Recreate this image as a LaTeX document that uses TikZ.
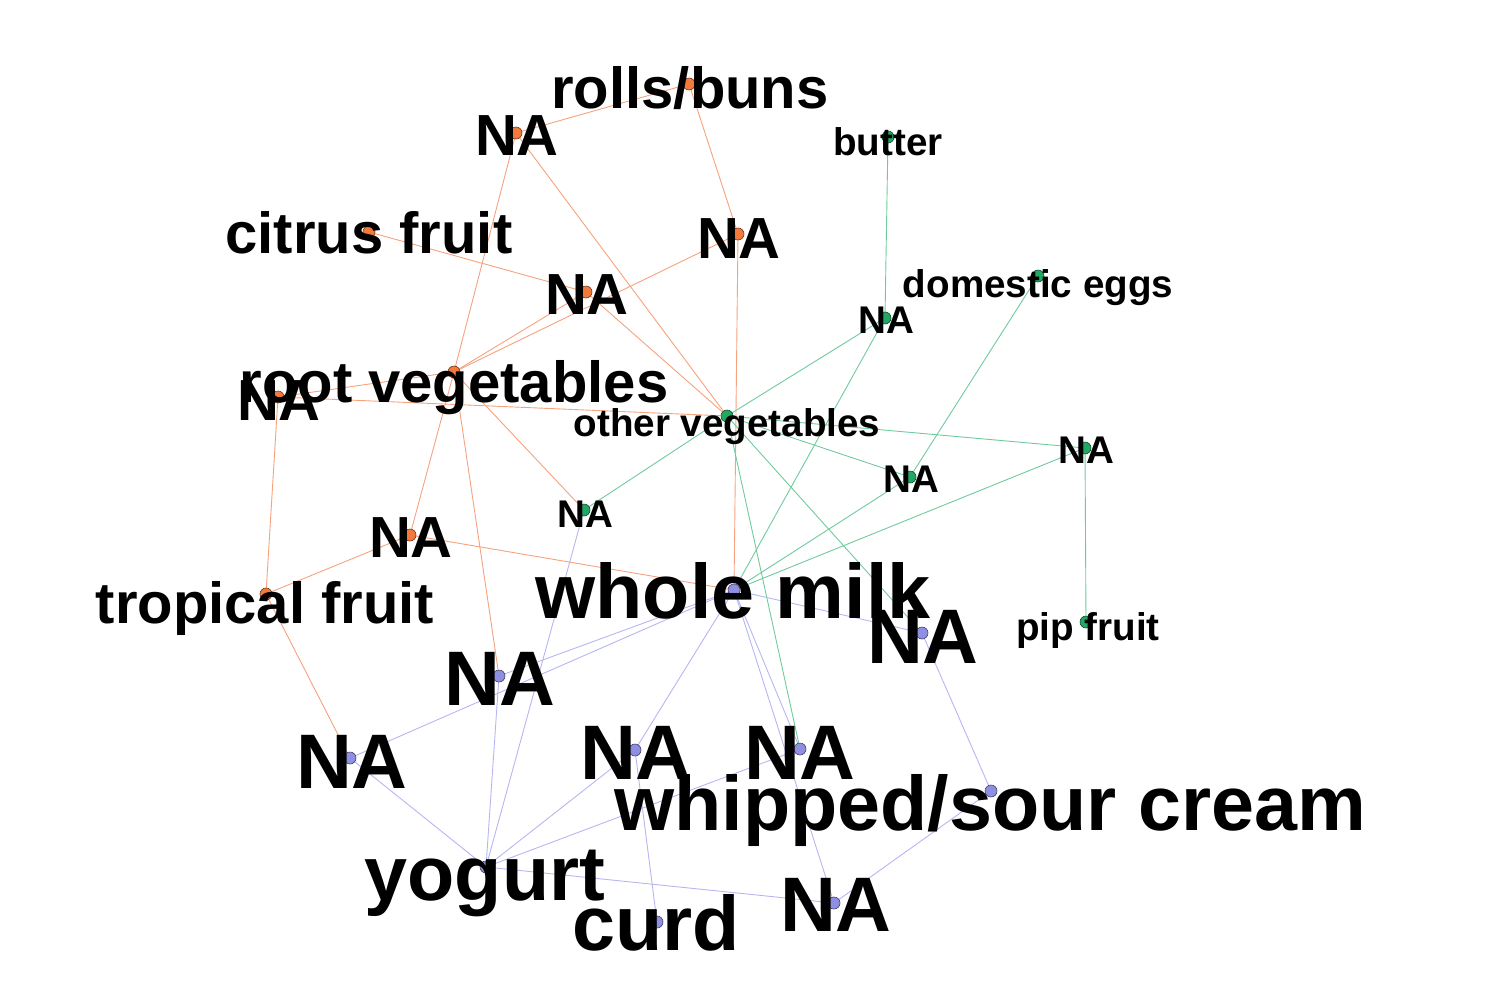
\documentclass[tikz,border=0pt]{standalone}
\usepackage{fontspec}
\setmainfont{Liberation Sans}
\usetikzlibrary{positioning,backgrounds}
\definecolor{org}{HTML}{F47A3C}
\definecolor{grn}{HTML}{22A862}
\definecolor{prp}{HTML}{8F8FE2}
\definecolor{oline}{HTML}{F7A27E}
\definecolor{gline}{HTML}{6FCB9C}
\definecolor{pline}{HTML}{B6B6F2}

\begin{document}
\begin{tikzpicture}[x=1pt,y=-1pt,
  vdot/.style={circle,inner sep=0pt,minimum size=12pt,line width=0.6pt},
  odot/.style={vdot,fill=org,draw=org!45!black},
  gdot/.style={vdot,fill=grn,draw=grn!45!black},
  pdot/.style={vdot,fill=prp,draw=prp!45!black},
  oedge/.style={oline,line width=0.9pt},
  gedge/.style={gline,line width=0.9pt},
  pedge/.style={pline,line width=0.9pt},
  lab/.style={anchor=base,inner sep=0pt,text=black},
  olab/.style={lab,font=\fontsize{58}{58}\selectfont\bfseries},
  glab/.style={lab,font=\fontsize{38.6}{39}\selectfont\bfseries},
  plab/.style={lab,font=\fontsize{77.3}{78}\selectfont\bfseries}]
  \useasboundingbox (0,0) rectangle (1488,996);
  % item and rule vertices
  \foreach \n/\x/\y in {rb/689/84,o1/516/133,cf/369/232,o2/738/234,o3/586/292,rv/454/372,o4/278/397,o5/410/535,tf/266/594}
    \node[odot] (\n) at (\x,\y) {};
  \foreach \n/\x/\y in {bu/888/137,de/1038/276,g1/885/318,ov/727/416,g2/1085/448,g3/910/477,g4/584/510,pf/1086/622}
    \node[gdot] (\n) at (\x,\y) {};
  \foreach \n/\x/\y in {wm/734/590,p1/922/633,p2/499/676,p3/350/758,p4/635/750,p5/800/749,ws/991/791,yo/486/867,cu/657/922,p6/834/903}
    \node[pdot] (\n) at (\x,\y) {};
  % edges, coloured by their source
  \begin{scope}[on background layer]
    \foreach \a/\b in {rb/o1,rv/o1,o1/ov,rb/o2,rv/o2,o2/wm,cf/o3,rv/o3,o3/ov,rv/o4,tf/o4,o4/ov,rv/o5,tf/o5,o5/wm,rv/g4,rv/p2,tf/p3}
      \draw[oedge] (\a.center) -- (\b.center);
    \foreach \a/\b in {bu/g1,ov/g1,g1/wm,pf/g2,ov/g2,g2/wm,de/g3,ov/g3,g3/wm,ov/g4,ov/p1,ov/p5}
      \draw[gedge] (\a.center) -- (\b.center);
    \foreach \a/\b in {yo/g4,ws/p1,p1/wm,yo/p2,p2/wm,yo/p3,p3/wm,cu/p4,yo/p4,p4/wm,yo/p5,p5/wm,ws/p6,yo/p6,p6/wm}
      \draw[pedge] (\a.center) -- (\b.center);
  \end{scope}
  % labels
  \node[olab] (l-rb) at (690,108) {rolls/buns};
  \node[olab] (l-o1) at (517,155) {NA};
  \node[olab] (l-cf) at (369,253) {citrus fruit};
  \node[olab] (l-o2) at (739,258) {NA};
  \node[olab] (l-o3) at (587,314) {NA};
  \node[olab] (l-rv) at (454,402) {root vegetables};
  \node[olab] (l-o4) at (279,420) {NA};
  \node[olab] (l-o5) at (411,557) {NA};
  \node[olab] (l-tf) at (265,623) {tropical fruit};
  \node[glab] (l-bu) at (888,155) {butter};
  \node[glab] (l-de) at (1038,297) {domestic eggs};
  \node[glab] (l-g1) at (886,333) {NA};
  \node[glab] (l-ov) at (727,436) {other vegetables};
  \node[glab] (l-g2) at (1086,463) {NA};
  \node[glab] (l-g3) at (911,492) {NA};
  \node[glab] (l-g4) at (585,527) {NA};
  \node[glab] (l-pf) at (1088,640) {pip fruit};
  \node[plab] (l-wm) at (733,618) {whole milk};
  \node[plab] (l-p1) at (923,663) {NA};
  \node[plab] (l-p2) at (500,705) {NA};
  \node[plab] (l-p3) at (352,788) {NA};
  \node[plab] (l-p4) at (636,779) {NA};
  \node[plab] (l-p5) at (800,779) {NA};
  \node[plab] (l-ws) at (990,830) {whipped/sour cream};
  \node[plab] (l-yo) at (485,900) {yogurt};
  \node[plab] (l-cu) at (656,950) {curd};
  \node[plab] (l-p6) at (836,931) {NA};
\end{tikzpicture}
\end{document}
